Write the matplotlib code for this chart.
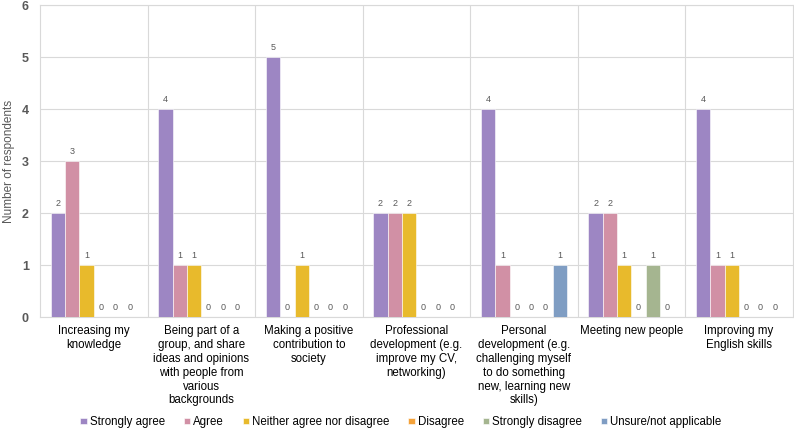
import matplotlib
matplotlib.use("Agg")
import matplotlib.pyplot as plt
import numpy as np

plt.rcParams["font.family"] = ["Liberation Sans", "DejaVu Sans"]

categories = [
    "Increasing my\nknowledge",
    "Being part of a\ngroup, and share\nideas and opinions\nwith people from\nvarious\nbackgrounds",
    "Making a positive\ncontribution to\nsociety",
    "Professional\ndevelopment (e.g.\nimprove my CV,\nnetworking)",
    "Personal\ndevelopment (e.g.\nchallenging myself\nto do something\nnew, learning new\nskills)",
    "Meeting new people",
    "Improving my\nEnglish skills",
]
series_names = [
    "Strongly agree",
    "Agree",
    "Neither agree nor disagree",
    "Disagree",
    "Strongly disagree",
    "Unsure/not applicable",
]
strongly_agree = [2, 4, 5, 2, 4, 2, 4]
agree = [3, 1, 0, 2, 1, 2, 1]
neither = [1, 1, 1, 2, 0, 1, 1]
disagree = [0, 0, 0, 0, 0, 0, 0]
strongly_disagree = [0, 0, 0, 0, 0, 1, 0]
unsure = [0, 0, 0, 0, 1, 0, 0]
series = [strongly_agree, agree, neither, disagree, strongly_disagree, unsure]
colors = ["#9D86C3", "#D190A5", "#E8BA2C", "#F4A23A", "#A5B590", "#7F9DC3"]

fig = plt.figure(figsize=(7.94, 4.29), dpi=100)
ax = fig.add_axes([0.0504, 0.261, 0.948, 0.727])

n = len(series)
x = np.arange(len(categories))
group_w = 0.8
bw = group_w / n
for i, (vals, col, name) in enumerate(zip(series, colors, series_names)):
    pos = x - group_w / 2 + bw * (i + 0.5)
    ax.bar(pos, vals, width=bw, color=col, edgecolor="white", linewidth=0.4, label=name, zorder=3)
    for xp, v in zip(pos, vals):
        ax.text(xp, v + 0.1, str(v), ha="center", va="bottom", fontsize=6.5, color="#595959")

ax.set_xlim(-0.5, len(categories) - 0.5)
ax.set_ylim(0, 6)
ax.set_yticks(range(0, 7))
ax.set_yticklabels([str(i) for i in range(0, 7)], fontsize=9, fontweight="bold", color="#595959")
ax.set_xticks(x)
ax.set_xticklabels(categories, fontsize=8.3, color="#000000", linespacing=1.2)
ax.tick_params(axis="both", length=0)
ax.tick_params(axis="x", pad=6)
ax.tick_params(axis="y", pad=8)

ax.grid(axis="y", color="#D9D9D9", linewidth=0.8, zorder=0)
for b in np.arange(0.5, len(categories) - 0.5, 1.0):
    ax.axvline(b, color="#D9D9D9", linewidth=0.8, zorder=0)
for side in ["top", "right", "left", "bottom"]:
    ax.spines[side].set_color("#D9D9D9")
    ax.spines[side].set_linewidth(0.8)

ax.set_ylabel("Number of respondents", fontsize=8.5, color="#595959", labelpad=5)

fig.legend(loc="lower center", bbox_to_anchor=(0.505, -0.022), ncol=6, frameon=False,
           fontsize=8.3, handlelength=0.55, handleheight=0.55, handletextpad=0.3,
           columnspacing=1.6)

fig.savefig("out.png", dpi=100)
